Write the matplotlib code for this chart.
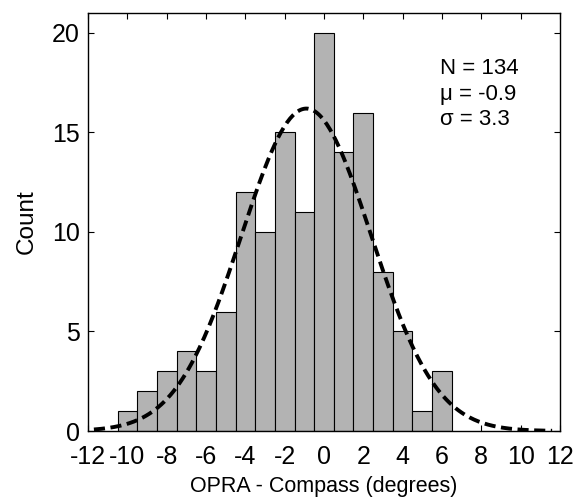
import numpy as np
import matplotlib
matplotlib.use("Agg")
import matplotlib.pyplot as plt

# histogram of OPRA - Compass differences (bin centres in degrees)
bin_centers = [-10, -9, -8, -7, -6, -5, -4, -3, -2, -1, 0, 1, 2, 3, 4, 5, 6]
counts = [1, 2, 3, 4, 3, 6, 12, 10, 15, 11, 20, 14, 16, 8, 5, 1, 3]

# normal fit parameters shown on the chart
n_obs = 134
mu = -0.9
sigma = 3.3
bin_width = 1.0

xticks = [-12, -10, -8, -6, -4, -2, 0, 2, 4, 6, 8, 10, 12]
yticks = [0, 5, 10, 15, 20]

plt.rcParams['font.family'] = ['Liberation Sans', 'DejaVu Sans']
plt.rcParams['lines.scale_dashes'] = False
plt.rcParams['axes.unicode_minus'] = False


def main():
    fig = plt.figure(figsize=(5.76, 5.01), dpi=100)
    ax = fig.add_axes([0.1528, 0.1397, 0.8194, 0.8343])

    ax.bar(bin_centers, counts, width=bin_width, color="#b3b3b3",
           edgecolor="k", linewidth=0.8, zorder=2)

    xs = np.linspace(-11.7, 11.6, 300)
    fit = n_obs * bin_width / (sigma * np.sqrt(2 * np.pi)) * \
        np.exp(-0.5 * ((xs - mu) / sigma) ** 2)
    ax.plot(xs, fit, color="k", linewidth=2.8, dashes=(8, 4), zorder=3)

    ax.set_xlim(-12, 12)
    ax.set_ylim(0, 21)
    ax.set_xticks(xticks)
    ax.set_yticks(yticks)
    ax.tick_params(direction="in", length=4, width=0.8, top=True,
                   right=True, labelsize=18, colors="k")
    ax.tick_params(axis="x", pad=10)
    ax.tick_params(axis="y", pad=6)
    for s in ax.spines.values():
        s.set_linewidth(1.0)

    ax.set_xlabel("OPRA - Compass (degrees)", fontsize=15.5, labelpad=5)
    ax.set_ylabel("Count", fontsize=17.5, labelpad=10)

    ax.text(5.9, 18.75, "N = 134\n\u03bc = -0.9\n\u03c3 = 3.3", fontsize=16,
            va="top", ha="left", linespacing=1.3)

    fig.savefig("out.png", dpi=100)


if __name__ == '__main__':
    main()
